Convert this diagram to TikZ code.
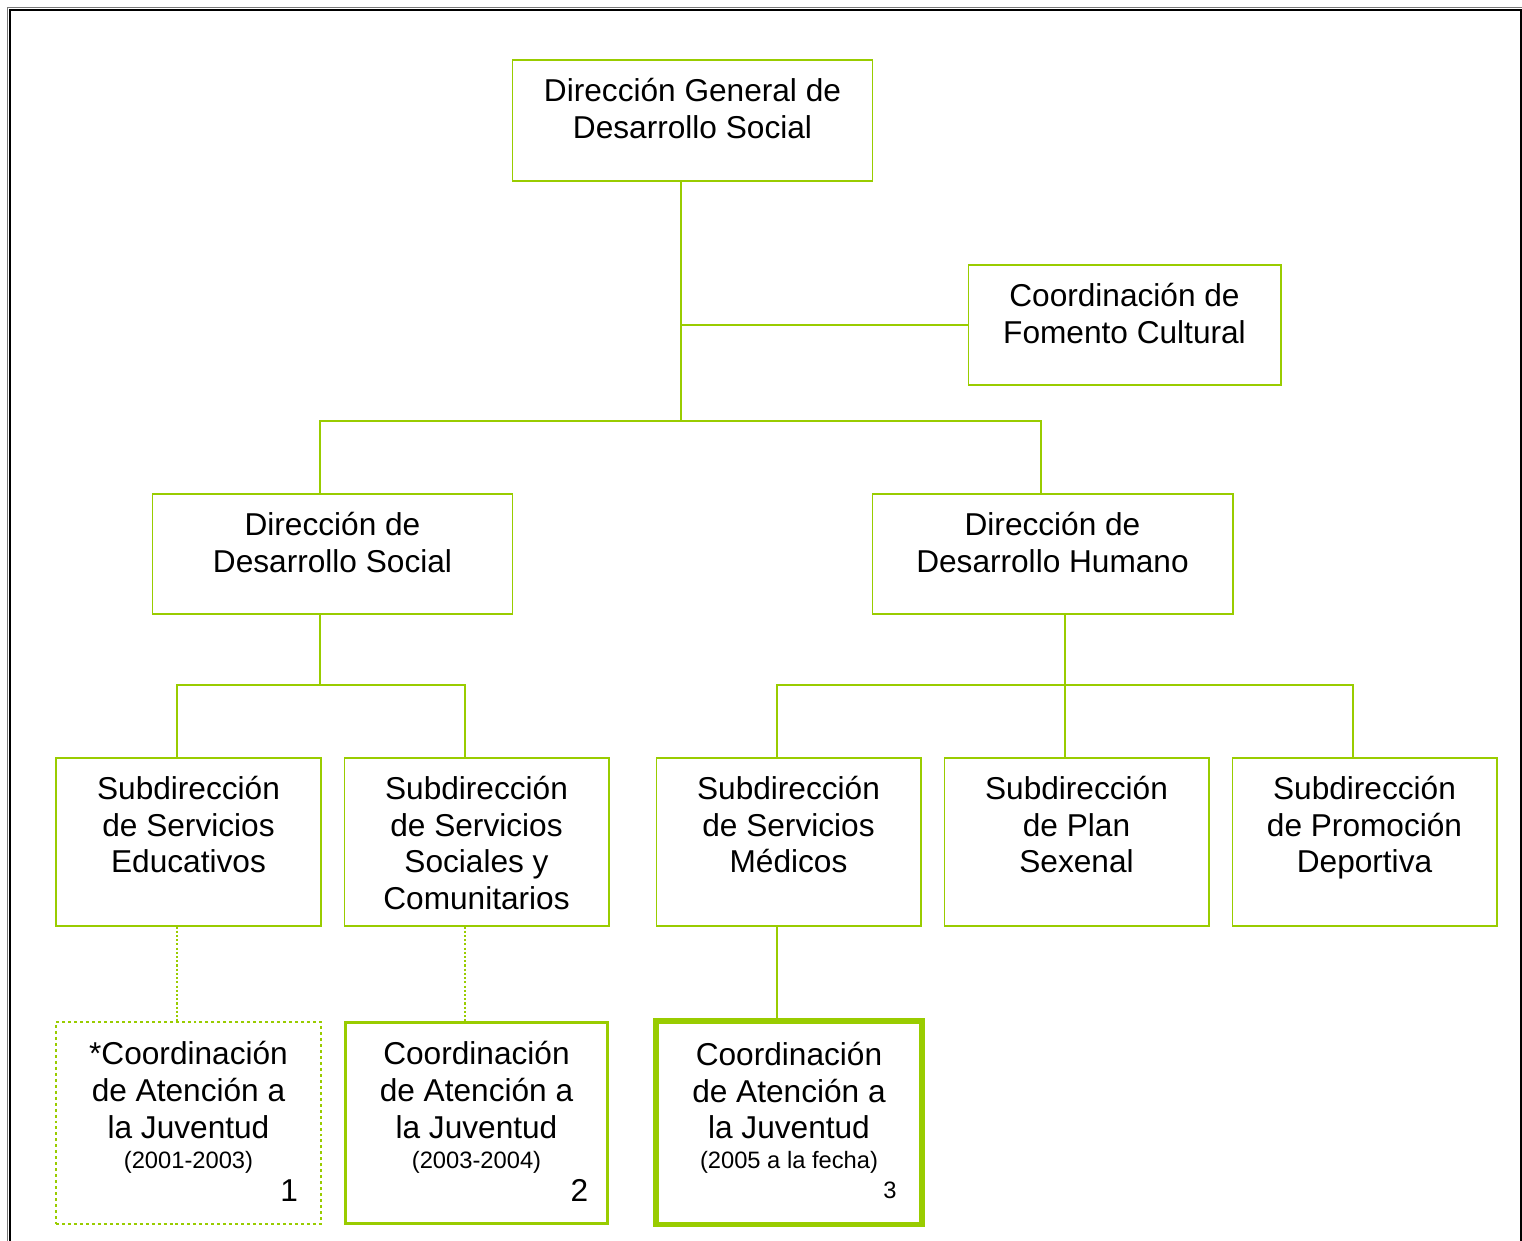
\documentclass[tikz,border=0pt]{standalone}
\usepackage{fontspec}
\setmainfont{Liberation Sans}
\usetikzlibrary{positioning}
\definecolor{lima}{RGB}{153,204,0}
\definecolor{marco}{RGB}{120,120,120}

\begin{document}
\begin{tikzpicture}
  [x=0.02cm,y=-0.02cm,
  box/.style={draw=lima,line width=0.6pt,inner sep=0pt},
  bigbox/.style={box,minimum width=7.22cm,minimum height=2.4cm},
  subbox/.style={box,minimum width=5.3cm,minimum height=3.36cm},
  txt/.style={anchor=north,align=center,inner sep=0pt,font=\fontsize{18}{21}\selectfont,yshift=-0.36cm},
  num/.style={anchor=base east,inner sep=0pt,font=\fontsize{18}{21}\selectfont},
  link/.style={draw=lima,line width=0.6pt},
  dotlink/.style={link,dash pattern=on 1.2pt off 1.2pt}]
  \useasboundingbox (0,0) rectangle (1522,1241);
  % marco
  \draw[marco,line width=0.6pt] (7.5,1260) -- (7.5,7.5) -- (1540,7.5);
  \draw[black,line width=0.9pt] (9.8,1260) -- (9.8,9.8) -- (1521,9.8) -- (1521,1260);

  % direcciones
  \node[box,minimum width=7.22cm,minimum height=2.42cm] (dg) at (692.5,120.5) {};
  \node[box,minimum width=6.26cm,minimum height=2.4cm] (fomento) at (1124.5,325) {};
  \node[bigbox] (dsocial) at (332.5,554) {};
  \node[bigbox] (dhumano) at (1052.5,554) {};

  % subdirecciones
  \node[subbox] (educ) at (188.5,842) {};
  \node[subbox] (soc) at (476.5,842) {};
  \node[subbox] (med) at (788.5,842) {};
  \node[subbox] (plan) at (1076.5,842) {};
  \node[subbox] (dep) at (1364.5,842) {};

  % coordinaciones de juventud
  \node[box,line width=1.5pt,dash pattern=on 1.7pt off 1.7pt,minimum width=5.3cm,minimum height=4.04cm] (juv1) at (188.5,1123) {};
  \node[box,line width=1.7pt,minimum width=5.26cm,minimum height=4.02cm] (juv2) at (476.5,1123) {};
  \node[box,line width=3.4pt,minimum width=5.32cm,minimum height=4.07cm] (juv3) at (789,1122.75) {};

  % textos
  \node[txt] (dg-t) at (dg.north) {Dirección General de\\Desarrollo Social};
  \node[txt] (fomento-t) at (fomento.north) {Coordinación de\\Fomento Cultural};
  \node[txt] (dsocial-t) at (dsocial.north) {Dirección de\\Desarrollo Social};
  \node[txt] (dhumano-t) at (dhumano.north) {Dirección de\\Desarrollo Humano};
  \node[txt] (educ-t) at (educ.north) {Subdirección\\de Servicios\\Educativos};
  \node[txt] (soc-t) at (soc.north) {Subdirección\\de Servicios\\Sociales y\\Comunitarios};
  \node[txt] (med-t) at (med.north) {Subdirección\\de Servicios\\Médicos};
  \node[txt] (plan-t) at (plan.north) {Subdirección\\de Plan\\Sexenal};
  \node[txt] (dep-t) at (dep.north) {Subdirección\\de Promoción\\Deportiva};
  \node[txt,yshift=-0.04cm] (juv1-t) at (juv1.north) {*Coordinación\\de Atención a\\la Juventud\\[-4pt]{\fontsize{13.5}{15}\selectfont (2001-2003)}};
  \node[txt,yshift=-0.04cm] (juv2-t) at (juv2.north) {Coordinación\\de Atención a\\la Juventud\\[-4pt]{\fontsize{13.5}{15}\selectfont (2003-2004)}};
  \node[txt,yshift=-0.11cm] (juv3-t) at (juv3.north) {Coordinación\\de Atención a\\la Juventud\\[-4pt]{\fontsize{13.5}{15}\selectfont (2005 a la fecha)}};
  \node[num] (n1) at ([xshift=-0.48cm,yshift=0.48cm]juv1.south east) {1};
  \node[num] (n2) at ([xshift=-0.42cm,yshift=0.47cm]juv2.south east) {2};
  \node[num,font=\fontsize{13.5}{15}\selectfont] (n3) at ([xshift=-0.56cm,yshift=0.57cm]juv3.south east) {3};

  % lineas
  \coordinate (hub) at (681,421);
  \coordinate (a) at (320,421);
  \coordinate (b) at (1041,421);
  \draw[link] (dg.south -| hub) -- (hub);
  \draw[link] (fomento.west) -- (fomento.west -| hub);
  \draw[link] (dsocial.north -| a) -- (a) -- (b) -- (dhumano.north -| b);

  \coordinate (c) at (320,685);
  \coordinate (c1) at (177,685);
  \coordinate (c2) at (465,685);
  \draw[link] (dsocial.south -| c) -- (c);
  \draw[link] (educ.north -| c1) -- (c1) -- (c2) -- (soc.north -| c2);

  \coordinate (d) at (1065,685);
  \coordinate (d1) at (777,685);
  \coordinate (d2) at (1353,685);
  \draw[link] (dhumano.south -| d) -- (plan.north -| d);
  \draw[link] (med.north -| d1) -- (d1) -- (d2) -- (dep.north -| d2);

  \draw[dotlink] (educ.south -| c1) -- (juv1.north -| c1);
  \draw[dotlink] (soc.south -| c2) -- (juv2.north -| c2);
  \draw[link] (med.south -| d1) -- (juv3.north -| d1);
\end{tikzpicture}
\end{document}
